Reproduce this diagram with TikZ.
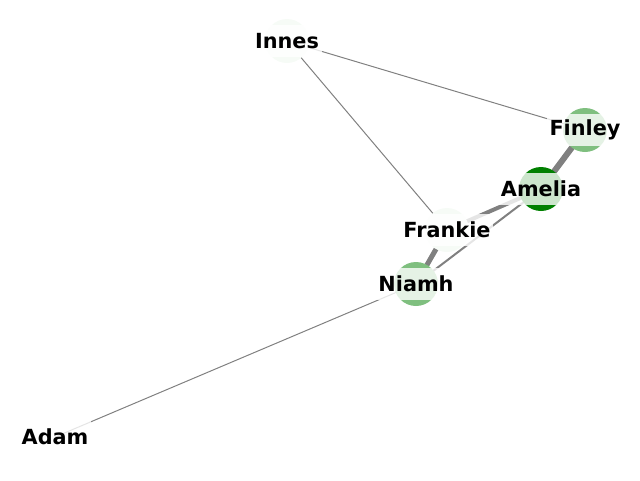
\documentclass[tikz,border=0pt]{standalone}
\usepackage{fontspec}
\setmainfont{DejaVu Sans}
\definecolor{deepgreen}{HTML}{008000}
\definecolor{midgreen}{HTML}{7FBF7F}
\definecolor{palegreen}{HTML}{F6FBF6}
\begin{document}
\begin{tikzpicture}[x=0.75pt,y=-0.75pt,
  vertex/.style={circle,minimum size=33pt,inner sep=0pt},
  tag/.style={fill=white,fill opacity=0.8,text opacity=1,inner xsep=2pt,minimum height=24pt,
    font=\bfseries\fontsize{15.6}{18}\selectfont},
  link/.style={draw=gray,line width=#1}]
  \useasboundingbox (0,0) rectangle (640,480);
  \coordinate (innes) at (287,41);
  \coordinate (finley) at (585,130);
  \coordinate (amelia) at (541,189);
  \coordinate (frankie) at (447,230);
  \coordinate (niamh) at (416,284);
  \coordinate (adam) at (55,437);
  % edges
  \draw[link=0.75pt] (innes) -- (finley);
  \draw[link=0.75pt] (innes) -- (frankie);
  \draw[link=4.5pt] (finley) -- (amelia);
  \draw[link=3pt] (amelia) -- (frankie);
  \draw[link=1.5pt] (amelia) -- (niamh);
  \draw[link=3.75pt] (frankie) -- (niamh);
  \draw[link=0.75pt] (niamh) -- (adam);
  % vertices
  \node[vertex,fill=palegreen] (innes-dot) at (innes) {};
  \node[vertex,fill=midgreen] (finley-dot) at (finley) {};
  \node[vertex,fill=deepgreen] (amelia-dot) at (amelia) {};
  \node[vertex,fill=palegreen] (frankie-dot) at (frankie) {};
  \node[vertex,fill=midgreen] (niamh-dot) at (niamh) {};
  % labels
  \node[tag] (innes-tag) at (innes) {Innes};
  \node[tag] (finley-tag) at (finley) {Finley};
  \node[tag] (amelia-tag) at (amelia) {Amelia};
  \node[tag] (frankie-tag) at (frankie) {Frankie};
  \node[tag] (niamh-tag) at (niamh) {Niamh};
  \node[tag] (adam-tag) at (adam) {Adam};
\end{tikzpicture}
\end{document}
